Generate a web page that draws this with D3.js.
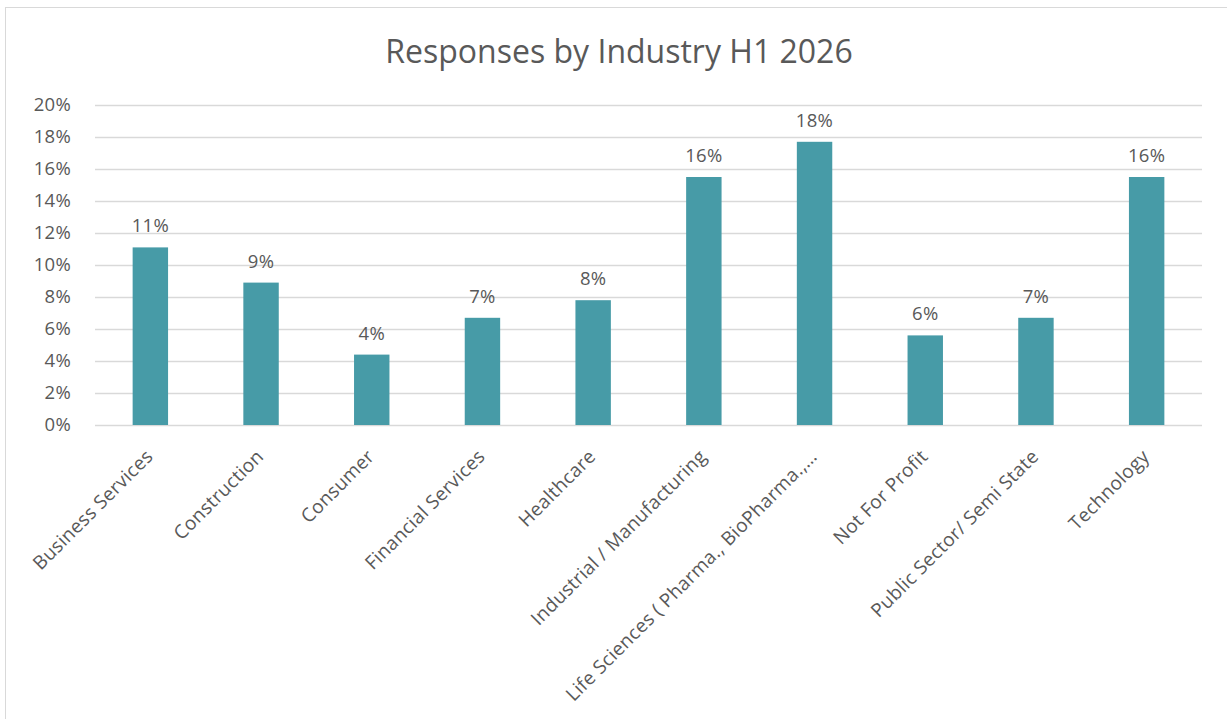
<!DOCTYPE html>
<html>
<head>
<meta charset="utf-8">
<script src="https://cdn.jsdelivr.net/npm/d3@7"></script>
<style>
  body { margin: 0; background: #fff; }
  text { font-family: "Open Sans", sans-serif; fill: #595959; }
</style>
</head>
<body>
<div id="chart"></div>
<script>
var title = "Responses by Industry H1 2026";
var industries = ["Business Services", "Construction", "Consumer", "Financial Services",
  "Healthcare", "Industrial / Manufacturing", "Life Sciences ( Pharma., BioPharma.,…",
  "Not For Profit", "Public Sector/ Semi State", "Technology"];
var shares = [0.111, 0.089, 0.044, 0.067, 0.078, 0.155, 0.177, 0.056, 0.067, 0.155];
var yTicks = [0, 0.02, 0.04, 0.06, 0.08, 0.10, 0.12, 0.14, 0.16, 0.18, 0.20];

var svgWidth = 1227, svgHeight = 719,
  margin = { top: 105, right: 25, bottom: 294, left: 95 },
  width = svgWidth - margin.left - margin.right,
  height = svgHeight - margin.top - margin.bottom;

var svg = d3.select("#chart").append("svg")
  .attr("width", svgWidth)
  .attr("height", svgHeight);

// outer chart frame
svg.append("rect")
  .attr("x", 5.5).attr("y", 7.5)
  .attr("width", 1240).attr("height", 730)
  .attr("fill", "none")
  .attr("stroke", "#d9d9d9");

svg.append("text")
  .attr("x", 619).attr("y", 63)
  .attr("text-anchor", "middle")
  .attr("font-size", 32)
  .text(title);

var g = svg.append("g")
  .attr("transform", "translate(" + margin.left + "," + margin.top + ")");

var x = d3.scaleBand().domain(industries).range([0, width]).paddingInner(0.68).paddingOuter(0.34);
var y = d3.scaleLinear().domain([0, 0.2]).range([height, 0]);

g.selectAll(".grid")
  .data(yTicks)
  .enter().append("line")
  .attr("x1", 0).attr("x2", width)
  .attr("y1", function(d) { return Math.round(y(d)) + 0.5; })
  .attr("y2", function(d) { return Math.round(y(d)) + 0.5; })
  .attr("stroke", "#d9d9d9")
  .attr("stroke-width", 1.5);

var yAxis = g.append("g")
  .call(d3.axisLeft(y).tickValues(yTicks).tickFormat(d3.format(".0%")).tickSize(0).tickPadding(24));
yAxis.select(".domain").remove();
yAxis.selectAll("text").attr("font-size", 18.5).attr("letter-spacing", 0.3)
  .style("font-family", "'Open Sans', sans-serif").attr("fill", "#595959");

g.selectAll(".bar")
  .data(industries)
  .enter().append("rect")
  .attr("x", function(d) { return x(d); })
  .attr("width", x.bandwidth())
  .attr("y", function(d, i) { return y(shares[i]); })
  .attr("height", function(d, i) { return height - y(shares[i]); })
  .attr("fill", "#479ba7");

g.selectAll(".val")
  .data(industries)
  .enter().append("text")
  .attr("x", function(d) { return x(d) + x.bandwidth() / 2; })
  .attr("y", function(d, i) { return y(shares[i]) - 15; })
  .attr("text-anchor", "middle")
  .attr("font-size", 18.5)
  .attr("letter-spacing", 0.3)
  .text(function(d, i) { return d3.format(".0%")(shares[i]); });

g.selectAll(".cat")
  .data(industries)
  .enter().append("text")
  .attr("transform", function(d) {
    return "translate(" + (x(d) + x.bandwidth() / 2 - 1) + "," + (height + 28) + ") rotate(-45)";
  })
  .attr("text-anchor", "end")
  .attr("dy", "0.35em")
  .attr("font-size", 19)
  .attr("letter-spacing", 0.3)
  .text(function(d) { return d; });
</script>
</body>
</html>
